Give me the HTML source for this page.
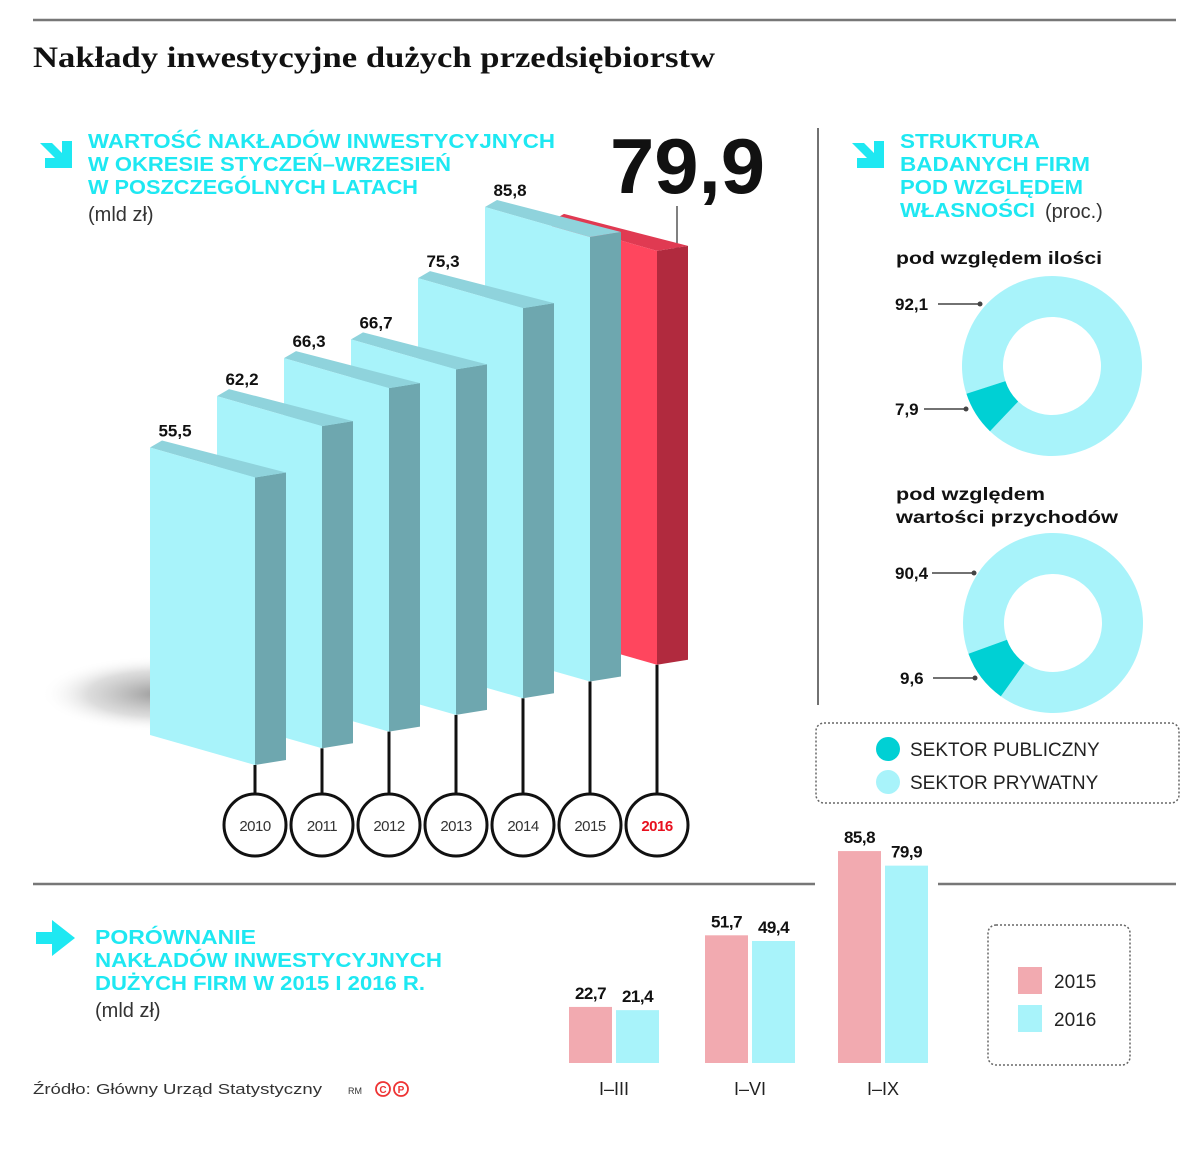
<!DOCTYPE html>
<html><head><meta charset="utf-8"><style>
html,body{margin:0;padding:0;background:#fff;}
svg{display:block;font-family:"Liberation Sans",sans-serif;}
</style></head><body>
<svg id="root" width="1200" height="1157" viewBox="0 0 1200 1157" xmlns="http://www.w3.org/2000/svg">
<defs>
<radialGradient id="shadowG" cx="0.6" cy="0.5" r="0.5">
<stop offset="0" stop-color="#8a8a8a" stop-opacity="0.85"/>
<stop offset="0.6" stop-color="#aaa" stop-opacity="0.4"/>
<stop offset="1" stop-color="#fff" stop-opacity="0"/>
</radialGradient>
</defs>
<line x1="33" y1="20" x2="1176" y2="20" stroke="#777" stroke-width="2.5"/>
<text x="33" y="67" font-family="Liberation Serif, serif" font-weight="bold" font-size="30" fill="#111" textLength="682" lengthAdjust="spacingAndGlyphs">Nakłady inwestycyjne dużych przedsiębiorstw</text>

<polygon points="40,143 52,143 62,153 62,141 72,141 72,168 45,168 45,158 55,158 45,148" fill="#1ee8f2"/>
<g font-weight="bold" font-size="20" fill="#1ee8f2">
<text x="88" y="148" textLength="467" lengthAdjust="spacingAndGlyphs">WARTOŚĆ NAKŁADÓW INWESTYCYJNYCH</text>
<text x="88" y="171" textLength="363" lengthAdjust="spacingAndGlyphs">W OKRESIE STYCZEŃ–WRZESIEŃ</text>
<text x="88" y="194" textLength="330" lengthAdjust="spacingAndGlyphs">W POSZCZEGÓLNYCH LATACH</text>
</g>
<text x="88" y="221" font-size="20" fill="#333">(mld zł)</text>

<text x="610" y="193" font-weight="bold" font-size="78" fill="#111" textLength="155" lengthAdjust="spacingAndGlyphs">79,9</text>
<line x1="677" y1="206" x2="677" y2="244" stroke="#555" stroke-width="1.5"/>
<circle cx="677" cy="246" r="2.5" fill="#555"/>

<ellipse cx="135" cy="694" rx="118" ry="38" fill="url(#shadowG)"/>
<g id="bars3d"></g>

<line x1="818" y1="128" x2="818" y2="705" stroke="#444" stroke-width="1.5"/>

<polygon points="852,143 864,143 874,153 874,141 884,141 884,168 857,168 857,158 867,158 857,148" fill="#1ee8f2"/>
<g font-weight="bold" font-size="20" fill="#1ee8f2">
<text x="900" y="148" textLength="140" lengthAdjust="spacingAndGlyphs">STRUKTURA</text>
<text x="900" y="171" textLength="190" lengthAdjust="spacingAndGlyphs">BADANYCH FIRM</text>
<text x="900" y="194" textLength="183" lengthAdjust="spacingAndGlyphs">POD WZGLĘDEM</text>
<text x="900" y="217" textLength="135" lengthAdjust="spacingAndGlyphs">WŁASNOŚCI</text>
</g>
<text x="1045" y="218" font-size="20" fill="#333">(proc.)</text>
<text x="896" y="264" font-weight="bold" font-size="17.5" fill="#111" textLength="206" lengthAdjust="spacingAndGlyphs">pod względem ilości</text>
<text x="896" y="500" font-weight="bold" font-size="17.5" fill="#111" textLength="149" lengthAdjust="spacingAndGlyphs">pod względem</text>
<text x="896" y="523" font-weight="bold" font-size="17.5" fill="#111" textLength="222" lengthAdjust="spacingAndGlyphs">wartości przychodów</text>
<g id="donuts"></g>

<rect x="816" y="723" width="363" height="80" rx="8" fill="none" stroke="#666" stroke-width="1.5" stroke-dasharray="2,2"/>
<g>
<circle cx="888" cy="749" r="12" fill="#00d0d4"/>
<text x="910" y="756" font-size="19" fill="#222">SEKTOR PUBLICZNY</text>
</g>
<g>
<circle cx="888" cy="782" r="12" fill="#a8f3fa"/>
<text x="910" y="789" font-size="19" fill="#222">SEKTOR PRYWATNY</text>
</g>

<line x1="33" y1="884" x2="815" y2="884" stroke="#777" stroke-width="2.5"/>
<line x1="938" y1="884" x2="1176" y2="884" stroke="#777" stroke-width="2.5"/>

<polygon points="36,932 52,932 52,920 75,938 52,956 52,944 36,944" fill="#1ee8f2"/>
<g font-weight="bold" font-size="20" fill="#1ee8f2">
<text x="95" y="944" textLength="161" lengthAdjust="spacingAndGlyphs">PORÓWNANIE</text>
<text x="95" y="967" textLength="347" lengthAdjust="spacingAndGlyphs">NAKŁADÓW INWESTYCYJNYCH</text>
<text x="95" y="990" textLength="330" lengthAdjust="spacingAndGlyphs">DUŻYCH FIRM W 2015 I 2016 R.</text>
</g>
<text x="95" y="1017" font-size="20" fill="#333">(mld zł)</text>

<g id="bars2d"></g>

<rect x="988" y="925" width="142" height="140" rx="8" fill="none" stroke="#666" stroke-width="1.5" stroke-dasharray="2,2"/>
<g>
<rect x="1018" y="967" width="24" height="27" fill="#f2aab0"/>
<text x="1054" y="988" font-size="19" fill="#222">2015</text>
</g>
<g>
<rect x="1018" y="1005" width="24" height="27" fill="#a8f3fa"/>
<text x="1054" y="1026" font-size="19" fill="#222">2016</text>
</g>

<text x="33" y="1094" font-size="15" fill="#333" textLength="289" lengthAdjust="spacingAndGlyphs">Źródło: Główny Urząd Statystyczny</text>
<text x="348" y="1094" font-size="9" fill="#333">RM</text>
<g>
<circle cx="383" cy="1089" r="7" fill="none" stroke="#e33" stroke-width="1.8"/>
<text x="383" y="1093" text-anchor="middle" font-size="10" font-weight="bold" fill="#e33">C</text>
<circle cx="401" cy="1089" r="7" fill="none" stroke="#e33" stroke-width="1.8"/>
<text x="401" y="1093" text-anchor="middle" font-size="10" font-weight="bold" fill="#e33">P</text>
</g>
</svg>
<script>
const NS = "http://www.w3.org/2000/svg";
const years = ["2010","2011","2012","2013","2014","2015","2016"];
const yearValues = [55.5, 62.2, 66.3, 66.7, 75.3, 85.8, 79.9];
const yearLabels = ["55,5","62,2","66,3","66,7","75,3","85,8","79,9"];
const donutTitles = ["ilosci","przychodow"];
const donutPublic = [7.9, 9.6];
const donutPrivate = [92.1, 90.4];
const donutPublicLabels = ["7,9","9,6"];
const donutPrivateLabels = ["92,1","90,4"];
const periods = ["I–III","I–VI","I–IX"];
const values2015 = [22.7, 51.7, 85.8];
const values2016 = [21.4, 49.4, 79.9];
const labels2015 = ["22,7","51,7","85,8"];
const labels2016 = ["21,4","49,4","79,9"];

function mk(tag, attrs, parent){
  const e = document.createElementNS(NS, tag);
  for (const k in attrs) e.setAttribute(k, attrs[k]);
  parent.appendChild(e);
  return e;
}
const pxPerUnit = 5.18;
function barRightX(i){ return 255 + 67 * i; }
function barBaseY(i){ return 765 - 16.7 * i; }
function barH(v){ return v * pxPerUnit; }

const g3 = document.getElementById("bars3d");
for (let i = 0; i < years.length; i++) {
  const R = barRightX(i), B = barBaseY(i);
  const stem = mk("line", {x1:R, y1:B, x2:R, y2:794, stroke:"#111", "stroke-width":3}, g3);
  
  
  const c = mk("circle", {cx:R, cy:825, r:31, fill:"#fff", stroke:"#111", "stroke-width":3}, g3);
  
  
  const t = mk("text", {x:R, y:831, "text-anchor":"middle", "font-size":15, "letter-spacing":"-0.5",
    fill: i === years.length-1 ? "#e8101e" : "#333", "font-weight": i === years.length-1 ? "bold" : "normal"}, g3);
  t.textContent = years[i];
  
  
}
for (let i = years.length - 1; i >= 0; i--) {
  const last = i === years.length - 1;
  const R = barRightX(i), L = R - 105, B = barBaseY(i);
  const tR = B - barH(yearValues[i]), tL = tR - 30, bL = B - 30;
  const dx = 31, dy = -5;
  const front = last ? "#ff465e" : "#a8f3fa";
  const side = last ? "#b12a3e" : "#6ea7af";
  const top = last ? "#e03a52" : "#8fd3dc";
  const bar = mk("g", {}, g3);
  
  
  mk("polygon", {points:`${R},${tR} ${R+dx},${tR+dy} ${R+dx},${B+dy} ${R},${B}`, fill:side}, bar);
  mk("polygon", {points:`${L},${tL} ${L+12},${tL-7} ${R+dx},${tR+dy} ${R},${tR}`, fill:top}, bar);
  mk("polygon", {points:`${L},${tL} ${R},${tR} ${R},${B} ${L},${bL}`, fill:front}, bar);
  if (!last) {
    const lab = mk("text", {x:L+25, y:tL-11, "text-anchor":"middle", "font-size":17, "font-weight":"bold", fill:"#111"}, g3);
    lab.textContent = yearLabels[i];
    
    
  }
}

const donutCenters = [[1052,366],[1053,623]];
const rOut = 90, rIn = 49;
const donutEndAngle = [252, 250];
const labelYs = [[304,409],[573,678]];
const labelEndX = [[980,966],[974,975]];
function pt(cx, cy, r, a){ const rad = (a - 90) * Math.PI / 180; return [cx + r*Math.cos(rad), cy + r*Math.sin(rad)]; }
function arcPath(cx, cy, a0, a1){
  const large = (a1 - a0) > 180 ? 1 : 0;
  const p0 = pt(cx,cy,rOut,a0), p1 = pt(cx,cy,rOut,a1), p2 = pt(cx,cy,rIn,a1), p3 = pt(cx,cy,rIn,a0);
  return `M${p0[0]},${p0[1]} A${rOut},${rOut} 0 ${large} 1 ${p1[0]},${p1[1]} L${p2[0]},${p2[1]} A${rIn},${rIn} 0 ${large} 0 ${p3[0]},${p3[1]} Z`;
}
const gd = document.getElementById("donuts");
for (let d = 0; d < donutPublic.length; d++) {
  const [cx, cy] = donutCenters[d];
  const total = donutPublic[d] + donutPrivate[d];
  const end = donutEndAngle[d];
  const start = end - donutPublic[d] / total * 360;
  const priv = mk("path", {d: arcPath(cx, cy, end, start + 360), fill:"#a8f3fa"}, gd);
  
  
  const pub = mk("path", {d: arcPath(cx, cy, start, end), fill:"#00d0d4"}, gd);
  
  
  const labs = [donutPrivateLabels[d], donutPublicLabels[d]];
  for (let k = 0; k < 2; k++) {
    const y = labelYs[d][k], x2 = labelEndX[d][k];
    const t = mk("text", {x:895 + (d===1&&k===1?5:0), y:y+6, "font-size":17, "font-weight":"bold", fill:"#111"}, gd);
    t.textContent = labs[k];
    
    
    const ln = mk("line", {x1:x2-42, y1:y, x2:x2, y2:y, stroke:"#444", "stroke-width":1.5}, gd);
    
    
    const dt = mk("circle", {cx:x2, cy:y, r:2.5, fill:"#444"}, gd);
    
    
  }
}

const base2 = 1063, scale2 = 2.47;
const groupX = [569, 705, 838];
const bw = 43;
function y2(v){ return base2 - v * scale2; }
const gb = document.getElementById("bars2d");
for (let i = 0; i < periods.length; i++) {
  const x0 = groupX[i], x1 = x0 + 47;
  const r1 = mk("rect", {x:x0, y:y2(values2015[i]), width:bw, height:base2 - y2(values2015[i]), fill:"#f2aab0"}, gb);
  
  
  const r2 = mk("rect", {x:x1, y:y2(values2016[i]), width:bw, height:base2 - y2(values2016[i]), fill:"#a8f3fa"}, gb);
  
  
  const t1 = mk("text", {x:x0 + bw/2, y:y2(values2015[i]) - 8, "text-anchor":"middle", "font-size":17, "font-weight":"bold", fill:"#111", "letter-spacing":"-0.5"}, gb);
  t1.textContent = labels2015[i];
  
  
  const t2 = mk("text", {x:x1 + bw/2, y:y2(values2016[i]) - 8, "text-anchor":"middle", "font-size":17, "font-weight":"bold", fill:"#111", "letter-spacing":"-0.5"}, gb);
  t2.textContent = labels2016[i];
  
  
  const c = mk("text", {x:x0 + 45, y:1095, "text-anchor":"middle", "font-size":18, fill:"#222"}, gb);
  c.textContent = periods[i];
  
  
}
</script>
</body></html>
